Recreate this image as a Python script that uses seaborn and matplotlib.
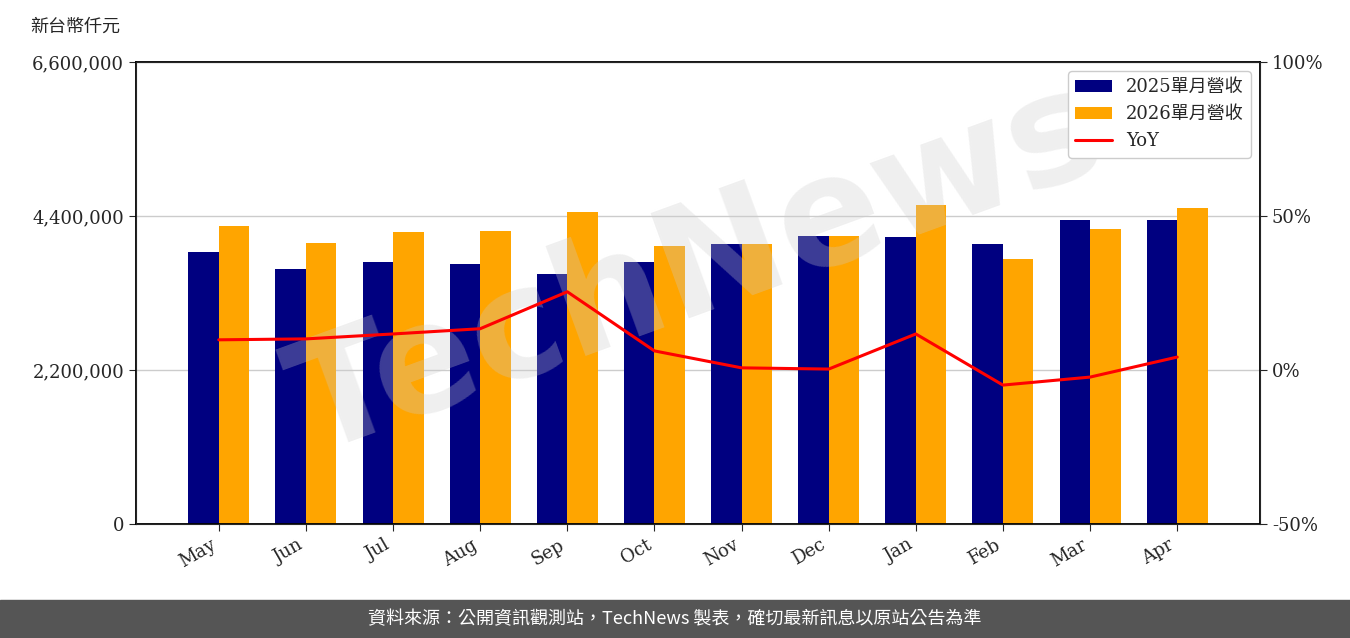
import numpy as np
import pandas as pd
import matplotlib
matplotlib.use("Agg")
import matplotlib.pyplot as plt
import seaborn as sns
from matplotlib.ticker import FuncFormatter

months = ["May", "Jun", "Jul", "Aug", "Sep", "Oct", "Nov", "Dec", "Jan", "Feb", "Mar", "Apr"]
rev_2025 = [3880000, 3650000, 3740000, 3710000, 3570000, 3740000, 4000000, 4120000, 4100000, 4000000, 4340000, 4340000]
rev_2026 = [4250000, 4010000, 4170000, 4180000, 4450000, 3970000, 4000000, 4120000, 4550000, 3790000, 4220000, 4510000]
yoy = [9.8, 10.1, 11.7, 13.4, 25.4, 6.2, 0.7, 0.3, 11.7, -4.9, -2.3, 4.2]
series_names = ["2025單月營收", "2026單月營收"]

sns.set_style("white")
plt.rcParams["font.family"] = ["DejaVu Serif", "Noto Sans CJK TC"]

df = pd.DataFrame({
    "month": months * 2,
    "rev": rev_2025 + rev_2026,
    "series": [series_names[0]] * 12 + [series_names[1]] * 12,
})

fig = plt.figure(figsize=(13.5, 6.38), dpi=100)
ax = fig.add_axes([136 / 1350, 1 - 524 / 638, 1124 / 1350, 462 / 638])
ax.set_axisbelow(True)
ax.yaxis.grid(True, color="#cccccc", lw=1)
sns.barplot(data=df, x="month", y="rev", hue="series", palette=["#000080", "#FFA500"],
            width=0.7, ax=ax, saturation=1, legend=True, linewidth=0, edgecolor="none")
# faint watermark over the bars
ax.text(0.5, 0.55, "TechNews", transform=ax.transAxes, fontsize=110, rotation=20,
        color="#cccccc", alpha=0.3, ha="center", va="center", family="DejaVu Sans",
        weight="bold", zorder=3)
ax.set_ylim(0, 6600000)
ax.set_yticks([0, 2200000, 4400000, 6600000])
ax.yaxis.set_major_formatter(FuncFormatter(lambda v, p: f"{int(v):,}"))
ax.set_xlabel("")
ax.set_ylabel("")
ax.set_xlim(-0.95, 11.95)
for lab in ax.get_xticklabels():
    lab.set_rotation(30)
    lab.set_ha("right")
ax.tick_params(labelsize=13, left=True, bottom=True, direction="out", length=5)
for s in ax.spines.values():
    s.set_color("black")
    s.set_linewidth(1.3)

ax2 = ax.twinx()
sns.lineplot(x=np.arange(12), y=yoy, color="red", lw=2.2, ax=ax2, label="YoY")
ax2.set_ylim(-50, 100)
ax2.set_yticks([-50, 0, 50, 100])
ax2.yaxis.set_major_formatter(FuncFormatter(lambda v, p: f"{int(v)}%"))
ax2.tick_params(labelsize=13, right=True, direction="out", length=5)
ax2.legend_.remove()

h1, l1 = ax.get_legend_handles_labels()
h2, l2 = ax2.get_legend_handles_labels()
ax.legend_.remove()
leg = ax2.legend(h1 + h2, l1 + l2, loc="upper right", fontsize=13, frameon=True, borderpad=0.4)
leg.get_frame().set_alpha(1)

fig.text(30 / 1350, 1 - 27 / 638, "新台幣仟元", fontsize=13, va="center")

fig.patches.append(plt.Rectangle((0, 0), 1, 38 / 638, transform=fig.transFigure,
                                 color="#555555", zorder=-1))
fig.text(0.5, 19 / 638, "資料來源：公開資訊觀測站，TechNews 製表，確切最新訊息以原站公告為準",
         color="white", fontsize=13, ha="center", va="center",
         family=["Noto Sans CJK TC", "DejaVu Sans"])

fig.savefig("out.png", dpi=100)
